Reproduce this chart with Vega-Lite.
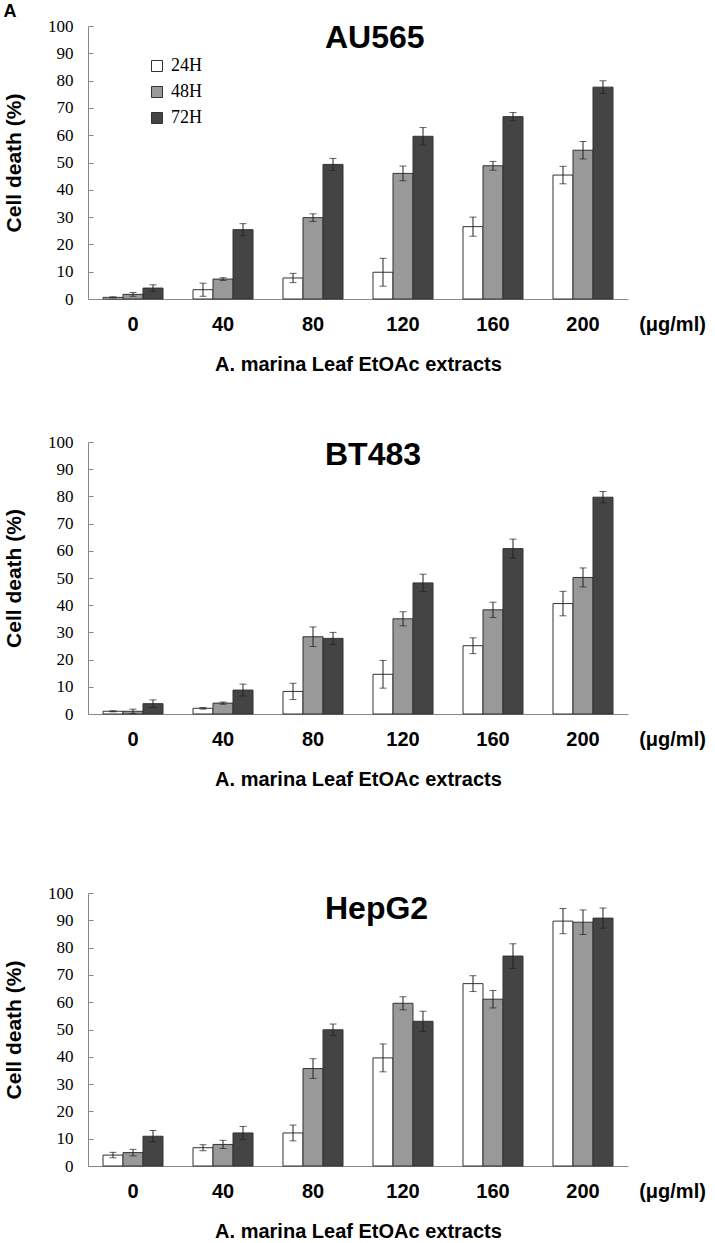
{
  "$schema": "https://vega.github.io/schema/vega-lite/v6.json",
  "padding": {"left": 3, "top": 3, "right": 5, "bottom": 5},
  "title": {"text": "A", "anchor": "start", "frame": "bounds", "fontSize": 18, "font": "Liberation Sans", "fontWeight": "bold", "color": "#000", "offset": -4},
  "config": {
    "font": "Liberation Sans",
    "view": {"stroke": null},
    "axis": {"grid": false},
    "axisX": {"labelAngle": 0},
    "axisY": {"labelOverlap": false, "titleFontSize": 21, "titleFontWeight": "bold", "titleColor": "#000", "titlePadding": 23, "labelFont": "Liberation Serif", "labelFontSize": 17, "labelColor": "#000", "labelPadding": 20, "tickSize": -5, "tickColor": "#888", "domainColor": "#888"}
  },
  "datasets": {
    "au": [
      {"conc": "0", "time": "24H", "v": 0.6, "lo": 0.4, "hi": 0.8},
      {"conc": "0", "time": "48H", "v": 1.7, "lo": 1.0, "hi": 2.4},
      {"conc": "0", "time": "72H", "v": 4.0, "lo": 2.8, "hi": 5.2},
      {"conc": "40", "time": "24H", "v": 3.4, "lo": 1.0, "hi": 5.8},
      {"conc": "40", "time": "48H", "v": 7.3, "lo": 6.8, "hi": 7.8},
      {"conc": "40", "time": "72H", "v": 25.4, "lo": 23.2, "hi": 27.6},
      {"conc": "80", "time": "24H", "v": 7.7, "lo": 6.0, "hi": 9.4},
      {"conc": "80", "time": "48H", "v": 29.8, "lo": 28.4, "hi": 31.2},
      {"conc": "80", "time": "72H", "v": 49.3, "lo": 47.1, "hi": 51.5},
      {"conc": "120", "time": "24H", "v": 9.8, "lo": 4.7, "hi": 14.9},
      {"conc": "120", "time": "48H", "v": 46.0, "lo": 43.3, "hi": 48.7},
      {"conc": "120", "time": "72H", "v": 59.6, "lo": 56.4, "hi": 62.8},
      {"conc": "160", "time": "24H", "v": 26.5, "lo": 23.0, "hi": 30.0},
      {"conc": "160", "time": "48H", "v": 48.8, "lo": 47.2, "hi": 50.4},
      {"conc": "160", "time": "72H", "v": 66.8, "lo": 65.3, "hi": 68.3},
      {"conc": "200", "time": "24H", "v": 45.4, "lo": 42.2, "hi": 48.6},
      {"conc": "200", "time": "48H", "v": 54.5, "lo": 51.3, "hi": 57.7},
      {"conc": "200", "time": "72H", "v": 77.6, "lo": 75.3, "hi": 79.9}
    ],
    "bt": [
      {"conc": "0", "time": "24H", "v": 1.0, "lo": 0.8, "hi": 1.2},
      {"conc": "0", "time": "48H", "v": 1.0, "lo": 0.2, "hi": 1.8},
      {"conc": "0", "time": "72H", "v": 3.8, "lo": 2.4, "hi": 5.2},
      {"conc": "40", "time": "24H", "v": 2.1, "lo": 1.8, "hi": 2.4},
      {"conc": "40", "time": "48H", "v": 4.0, "lo": 3.6, "hi": 4.4},
      {"conc": "40", "time": "72H", "v": 8.8, "lo": 6.6, "hi": 11.0},
      {"conc": "80", "time": "24H", "v": 8.3, "lo": 5.3, "hi": 11.3},
      {"conc": "80", "time": "48H", "v": 28.4, "lo": 24.8, "hi": 32.0},
      {"conc": "80", "time": "72H", "v": 27.8, "lo": 25.6, "hi": 30.0},
      {"conc": "120", "time": "24H", "v": 14.6, "lo": 9.5, "hi": 19.7},
      {"conc": "120", "time": "48H", "v": 35.0, "lo": 32.4, "hi": 37.6},
      {"conc": "120", "time": "72H", "v": 48.2, "lo": 45.0, "hi": 51.4},
      {"conc": "160", "time": "24H", "v": 25.1, "lo": 22.2, "hi": 28.0},
      {"conc": "160", "time": "48H", "v": 38.3, "lo": 35.5, "hi": 41.1},
      {"conc": "160", "time": "72H", "v": 60.8, "lo": 57.3, "hi": 64.3},
      {"conc": "200", "time": "24H", "v": 40.6, "lo": 36.1, "hi": 45.1},
      {"conc": "200", "time": "48H", "v": 50.2, "lo": 46.7, "hi": 53.7},
      {"conc": "200", "time": "72H", "v": 79.7, "lo": 77.6, "hi": 81.8}
    ],
    "hep": [
      {"conc": "0", "time": "24H", "v": 4.0, "lo": 3.0, "hi": 5.0},
      {"conc": "0", "time": "48H", "v": 4.9, "lo": 3.7, "hi": 6.1},
      {"conc": "0", "time": "72H", "v": 10.9, "lo": 8.8, "hi": 13.0},
      {"conc": "40", "time": "24H", "v": 6.7, "lo": 5.6, "hi": 7.8},
      {"conc": "40", "time": "48H", "v": 7.9, "lo": 6.4, "hi": 9.4},
      {"conc": "40", "time": "72H", "v": 12.1, "lo": 9.7, "hi": 14.5},
      {"conc": "80", "time": "24H", "v": 12.1, "lo": 9.2, "hi": 15.0},
      {"conc": "80", "time": "48H", "v": 35.7, "lo": 32.1, "hi": 39.3},
      {"conc": "80", "time": "72H", "v": 49.9, "lo": 47.8, "hi": 52.0},
      {"conc": "120", "time": "24H", "v": 39.6, "lo": 34.5, "hi": 44.7},
      {"conc": "120", "time": "48H", "v": 59.6, "lo": 57.2, "hi": 62.0},
      {"conc": "120", "time": "72H", "v": 53.0, "lo": 49.3, "hi": 56.7},
      {"conc": "160", "time": "24H", "v": 66.8, "lo": 63.9, "hi": 69.7},
      {"conc": "160", "time": "48H", "v": 61.1, "lo": 57.9, "hi": 64.3},
      {"conc": "160", "time": "72H", "v": 76.9, "lo": 72.4, "hi": 81.4},
      {"conc": "200", "time": "24H", "v": 89.7, "lo": 85.1, "hi": 94.3},
      {"conc": "200", "time": "48H", "v": 89.3, "lo": 84.8, "hi": 93.8},
      {"conc": "200", "time": "72H", "v": 90.8, "lo": 87.1, "hi": 94.5}
    ]
  },
  "spacing": 95,
  "vconcat": [
    {
      "spacing": 59,
      "vconcat": [
        {
          "data": {"name": "au"},
          "width": 540,
          "height": 273,
          "resolve": {"axis": {"x": "independent"}},
          "layer": [
            {
              "mark": {"type": "bar", "stroke": "#333", "strokeWidth": 1},
              "encoding": {
                "x": {"field": "conc", "type": "ordinal", "sort": ["0", "40", "80", "120", "160", "200"], "scale": {"paddingInner": 0.3333, "paddingOuter": 0.1667},
                  "axis": {"title": "A. marina Leaf EtOAc extracts", "titleFontSize": 20, "titleFontWeight": "bold", "titleColor": "#000", "titlePadding": 20, "labelFontSize": 20, "labelFontWeight": "bold", "labelColor": "#000", "labelPadding": 15, "ticks": false, "domainColor": "#888"}},
                "xOffset": {"field": "time", "type": "nominal", "sort": ["24H", "48H", "72H"], "scale": {"paddingInner": 0, "paddingOuter": 0}},
                "y": {"field": "v", "type": "quantitative", "scale": {"domain": [0, 100], "nice": false},
                  "axis": {"values": [0, 10, 20, 30, 40, 50, 60, 70, 80, 90, 100], "title": "Cell death (%)"}},
                "fill": {"field": "time", "type": "nominal", "scale": {"domain": ["24H", "48H", "72H"], "range": ["#ffffff", "#999999", "#444444"]},
                  "legend": {"title": null, "orient": "none", "legendX": 60, "legendY": 31, "padding": 0, "symbolType": "square", "symbolSize": 121, "symbolStrokeColor": "#333", "symbolStrokeWidth": 1, "labelFont": "Liberation Serif", "labelFontSize": 18, "labelColor": "#000", "labelOffset": 5, "rowPadding": 8}}
              }
            },
            {
              "mark": {"type": "rule", "color": "#222", "strokeWidth": 1},
              "encoding": {
                "x": {"field": "conc", "type": "ordinal", "sort": ["0", "40", "80", "120", "160", "200"],
                  "axis": {"orient": "bottom", "labels": false, "ticks": false, "domain": false, "title": "(μg/ml)", "titleX": 584, "titleY": 15, "titleBaseline": "top", "titleAlign": "center", "titleFontSize": 20, "titleFontWeight": "bold", "titleColor": "#000"}},
                "xOffset": {"field": "time", "type": "nominal", "sort": ["24H", "48H", "72H"]},
                "y": {"field": "lo", "type": "quantitative", "axis": {"values": [0, 10, 20, 30, 40, 50, 60, 70, 80, 90, 100], "title": "Cell death (%)"}},
                "y2": {"field": "hi"}
              }
            },
            {
              "mark": {"type": "tick", "color": "#222", "size": 7, "thickness": 1},
              "encoding": {
                "x": {"field": "conc", "type": "ordinal", "sort": ["0", "40", "80", "120", "160", "200"], "axis": null},
                "xOffset": {"field": "time", "type": "nominal", "sort": ["24H", "48H", "72H"]},
                "y": {"field": "lo", "type": "quantitative", "axis": {"values": [0, 10, 20, 30, 40, 50, 60, 70, 80, 90, 100], "title": "Cell death (%)"}}
              }
            },
            {
              "mark": {"type": "tick", "color": "#222", "size": 7, "thickness": 1},
              "encoding": {
                "x": {"field": "conc", "type": "ordinal", "sort": ["0", "40", "80", "120", "160", "200"], "axis": null},
                "xOffset": {"field": "time", "type": "nominal", "sort": ["24H", "48H", "72H"]},
                "y": {"field": "hi", "type": "quantitative", "axis": {"values": [0, 10, 20, 30, 40, 50, 60, 70, 80, 90, 100], "title": "Cell death (%)"}}
              }
            },
            {
              "data": {"values": [{"label": "AU565"}]},
              "mark": {"type": "text", "align": "left", "baseline": "alphabetic", "fontSize": 32, "fontWeight": "bold", "font": "Liberation Sans", "color": "#000"},
              "encoding": {
                "text": {"field": "label"},
                "x": {"datum": "80", "type": "ordinal", "bandPosition": 0.7, "axis": null},
                "y": {"datum": 91.8, "type": "quantitative", "axis": {"values": [0, 10, 20, 30, 40, 50, 60, 70, 80, 90, 100], "title": "Cell death (%)"}}
              }
            }
          ]
        },
        {
          "data": {"name": "bt"},
          "width": 540,
          "height": 272,
          "resolve": {"axis": {"x": "independent"}},
          "layer": [
            {
              "mark": {"type": "bar", "stroke": "#333", "strokeWidth": 1},
              "encoding": {
                "x": {"field": "conc", "type": "ordinal", "sort": ["0", "40", "80", "120", "160", "200"], "scale": {"paddingInner": 0.3333, "paddingOuter": 0.1667},
                  "axis": {"title": "A. marina Leaf EtOAc extracts", "titleFontSize": 20, "titleFontWeight": "bold", "titleColor": "#000", "titlePadding": 20, "labelFontSize": 20, "labelFontWeight": "bold", "labelColor": "#000", "labelPadding": 15, "ticks": false, "domainColor": "#888"}},
                "xOffset": {"field": "time", "type": "nominal", "sort": ["24H", "48H", "72H"], "scale": {"paddingInner": 0, "paddingOuter": 0}},
                "y": {"field": "v", "type": "quantitative", "scale": {"domain": [0, 100], "nice": false},
                  "axis": {"values": [0, 10, 20, 30, 40, 50, 60, 70, 80, 90, 100], "title": "Cell death (%)"}},
                "fill": {"field": "time", "type": "nominal", "scale": {"domain": ["24H", "48H", "72H"], "range": ["#ffffff", "#999999", "#444444"]},
                  "legend": {"title": null, "orient": "none", "legendX": 60, "legendY": 31, "padding": 0, "symbolType": "square", "symbolSize": 121, "symbolStrokeColor": "#333", "symbolStrokeWidth": 1, "labelFont": "Liberation Serif", "labelFontSize": 18, "labelColor": "#000", "labelOffset": 5, "rowPadding": 8}}
              }
            },
            {
              "mark": {"type": "rule", "color": "#222", "strokeWidth": 1},
              "encoding": {
                "x": {"field": "conc", "type": "ordinal", "sort": ["0", "40", "80", "120", "160", "200"],
                  "axis": {"orient": "bottom", "labels": false, "ticks": false, "domain": false, "title": "(μg/ml)", "titleX": 584, "titleY": 15, "titleBaseline": "top", "titleAlign": "center", "titleFontSize": 20, "titleFontWeight": "bold", "titleColor": "#000"}},
                "xOffset": {"field": "time", "type": "nominal", "sort": ["24H", "48H", "72H"]},
                "y": {"field": "lo", "type": "quantitative", "axis": {"values": [0, 10, 20, 30, 40, 50, 60, 70, 80, 90, 100], "title": "Cell death (%)"}},
                "y2": {"field": "hi"}
              }
            },
            {
              "mark": {"type": "tick", "color": "#222", "size": 7, "thickness": 1},
              "encoding": {
                "x": {"field": "conc", "type": "ordinal", "sort": ["0", "40", "80", "120", "160", "200"], "axis": null},
                "xOffset": {"field": "time", "type": "nominal", "sort": ["24H", "48H", "72H"]},
                "y": {"field": "lo", "type": "quantitative", "axis": {"values": [0, 10, 20, 30, 40, 50, 60, 70, 80, 90, 100], "title": "Cell death (%)"}}
              }
            },
            {
              "mark": {"type": "tick", "color": "#222", "size": 7, "thickness": 1},
              "encoding": {
                "x": {"field": "conc", "type": "ordinal", "sort": ["0", "40", "80", "120", "160", "200"], "axis": null},
                "xOffset": {"field": "time", "type": "nominal", "sort": ["24H", "48H", "72H"]},
                "y": {"field": "hi", "type": "quantitative", "axis": {"values": [0, 10, 20, 30, 40, 50, 60, 70, 80, 90, 100], "title": "Cell death (%)"}}
              }
            },
            {
              "data": {"values": [{"label": "BT483"}]},
              "mark": {"type": "text", "align": "left", "baseline": "alphabetic", "fontSize": 32, "fontWeight": "bold", "font": "Liberation Sans", "color": "#000"},
              "encoding": {
                "text": {"field": "label"},
                "x": {"datum": "80", "type": "ordinal", "bandPosition": 0.7, "axis": null},
                "y": {"datum": 91.6, "type": "quantitative", "axis": {"values": [0, 10, 20, 30, 40, 50, 60, 70, 80, 90, 100], "title": "Cell death (%)"}}
              }
            }
          ]
        }
      ]
    },
    {
      "data": {"name": "hep"},
      "width": 540,
      "height": 273,
      "resolve": {"axis": {"x": "independent"}},
      "layer": [
        {
          "mark": {"type": "bar", "stroke": "#333", "strokeWidth": 1},
          "encoding": {
            "x": {"field": "conc", "type": "ordinal", "sort": ["0", "40", "80", "120", "160", "200"], "scale": {"paddingInner": 0.3333, "paddingOuter": 0.1667},
              "axis": {"title": "A. marina Leaf EtOAc extracts", "titleFontSize": 20, "titleFontWeight": "bold", "titleColor": "#000", "titlePadding": 20, "labelFontSize": 20, "labelFontWeight": "bold", "labelColor": "#000", "labelPadding": 15, "ticks": false, "domainColor": "#888"}},
            "xOffset": {"field": "time", "type": "nominal", "sort": ["24H", "48H", "72H"], "scale": {"paddingInner": 0, "paddingOuter": 0}},
            "y": {"field": "v", "type": "quantitative", "scale": {"domain": [0, 100], "nice": false},
              "axis": {"values": [0, 10, 20, 30, 40, 50, 60, 70, 80, 90, 100], "title": "Cell death (%)"}},
            "fill": {"field": "time", "type": "nominal", "scale": {"domain": ["24H", "48H", "72H"], "range": ["#ffffff", "#999999", "#444444"]},
              "legend": {"title": null, "orient": "none", "legendX": 60, "legendY": 31, "padding": 0, "symbolType": "square", "symbolSize": 121, "symbolStrokeColor": "#333", "symbolStrokeWidth": 1, "labelFont": "Liberation Serif", "labelFontSize": 18, "labelColor": "#000", "labelOffset": 5, "rowPadding": 8}}
          }
        },
        {
          "mark": {"type": "rule", "color": "#222", "strokeWidth": 1},
          "encoding": {
            "x": {"field": "conc", "type": "ordinal", "sort": ["0", "40", "80", "120", "160", "200"],
              "axis": {"orient": "bottom", "labels": false, "ticks": false, "domain": false, "title": "(μg/ml)", "titleX": 584, "titleY": 15, "titleBaseline": "top", "titleAlign": "center", "titleFontSize": 20, "titleFontWeight": "bold", "titleColor": "#000"}},
            "xOffset": {"field": "time", "type": "nominal", "sort": ["24H", "48H", "72H"]},
            "y": {"field": "lo", "type": "quantitative", "axis": {"values": [0, 10, 20, 30, 40, 50, 60, 70, 80, 90, 100], "title": "Cell death (%)"}},
            "y2": {"field": "hi"}
          }
        },
        {
          "mark": {"type": "tick", "color": "#222", "size": 7, "thickness": 1},
          "encoding": {
            "x": {"field": "conc", "type": "ordinal", "sort": ["0", "40", "80", "120", "160", "200"], "axis": null},
            "xOffset": {"field": "time", "type": "nominal", "sort": ["24H", "48H", "72H"]},
            "y": {"field": "lo", "type": "quantitative", "axis": {"values": [0, 10, 20, 30, 40, 50, 60, 70, 80, 90, 100], "title": "Cell death (%)"}}
          }
        },
        {
          "mark": {"type": "tick", "color": "#222", "size": 7, "thickness": 1},
          "encoding": {
            "x": {"field": "conc", "type": "ordinal", "sort": ["0", "40", "80", "120", "160", "200"], "axis": null},
            "xOffset": {"field": "time", "type": "nominal", "sort": ["24H", "48H", "72H"]},
            "y": {"field": "hi", "type": "quantitative", "axis": {"values": [0, 10, 20, 30, 40, 50, 60, 70, 80, 90, 100], "title": "Cell death (%)"}}
          }
        },
        {
          "data": {"values": [{"label": "HepG2"}]},
          "mark": {"type": "text", "align": "left", "baseline": "alphabetic", "fontSize": 32, "fontWeight": "bold", "font": "Liberation Sans", "color": "#000"},
          "encoding": {
            "text": {"field": "label"},
            "x": {"datum": "80", "type": "ordinal", "bandPosition": 0.7, "axis": null},
            "y": {"datum": 90.5, "type": "quantitative", "axis": {"values": [0, 10, 20, 30, 40, 50, 60, 70, 80, 90, 100], "title": "Cell death (%)"}}
          }
        }
      ]
    }
  ]
}
